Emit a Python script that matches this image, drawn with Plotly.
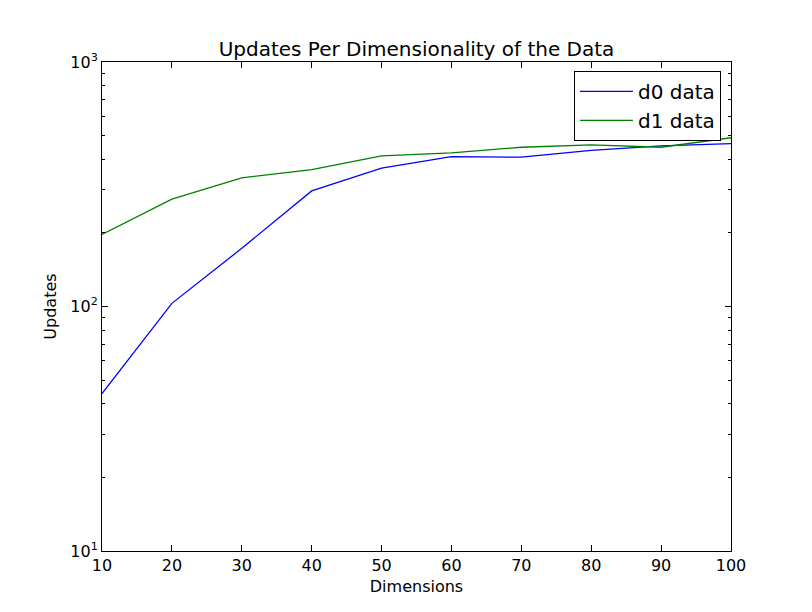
#! /usr/bin/env python3
# Updates per dimensionality, log-scale line chart

import plotly.graph_objects as go

dimensions = [10, 20, 30, 40, 50, 60, 70, 80, 90, 100]
d0_updates = [44, 103, 173, 297, 368, 410, 408, 435, 454, 464]
d1_updates = [197, 275, 336, 363, 413, 425, 448, 458, 448, 490]

series_names = ['d0 data', 'd1 data']
series_colors = ['#0000ff', '#008000']

y_major = [10, 100, 1000]
y_major_text = ['10<sup>1</sup>', '10<sup>2</sup>', '10<sup>3</sup>']
y_minor = [m * 10 ** e for e in (1, 2) for m in range(2, 10)]

font = 'DejaVu Sans, Liberation Sans, sans-serif'

figure = go.Figure()
for name, values, color in zip(series_names, [d0_updates, d1_updates], series_colors):
    figure.add_trace(go.Scatter(
        x=dimensions, y=values, mode='lines', name=name,
        line=dict(color=color, width=1.3)
    ))

axis_common = dict(
    showline=True, linecolor='black', linewidth=1, mirror='ticks',
    ticks='inside', ticklen=6, tickcolor='black', tickwidth=1,
    showgrid=False, zeroline=False,
    tickfont=dict(family=font, size=16, color='black'),
)

figure.update_xaxes(
    range=[10, 100], tickvals=dimensions,
    title=dict(text='Dimensions', font=dict(family=font, size=16, color='black'), standoff=6),
    **axis_common
)
figure.update_yaxes(
    type='log', range=[1, 3], tickvals=y_major, ticktext=y_major_text,
    minor=dict(tickvals=y_minor, ticks='inside', ticklen=3, tickcolor='black', tickwidth=1),
    title=dict(text='Updates', font=dict(family=font, size=16, color='black'), standoff=9),
    **axis_common
)

# the page adds an 8px body margin, so the figure is 800x600 like the original
figure.update_layout(
    width=800, height=600,
    margin=dict(l=94, r=77, t=54, b=57),
    paper_bgcolor='white', plot_bgcolor='white',
    title=dict(
        text='Updates Per Dimensionality of the Data',
        x=0.5, xref='paper', xanchor='center',
        y=1, yref='paper', yanchor='bottom', pad=dict(b=6),
        font=dict(family=font, size=20, color='black')
    ),
    legend=dict(
        x=0.984, y=0.982, xanchor='right', yanchor='top',
        bgcolor='white', bordercolor='black', borderwidth=1,
        font=dict(family=font, size=20, color='black'),
        itemwidth=53, tracegroupgap=0
    ),
    showlegend=True,
)

figure.write_html('out.html')
